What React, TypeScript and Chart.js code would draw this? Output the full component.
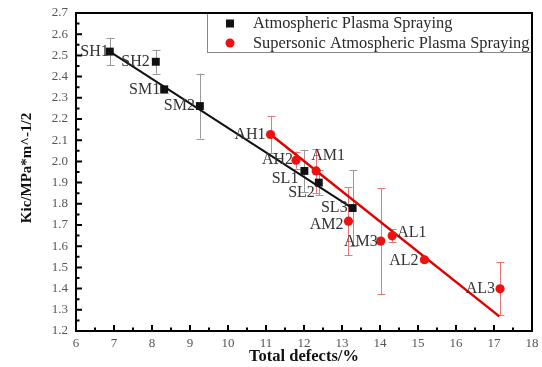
import React, { useEffect, useRef } from 'react';
import { Chart, registerables } from 'chart.js';

Chart.register(...registerables);

// ---------- data ----------
const seriesNames = ['Atmospheric Plasma Spraying', 'Supersonic Atmospheric Plasma Spraying'];

const apsLabels = ['SH1', 'SH2', 'SM1', 'SM2', 'SL1', 'SL2', 'SL3'];
const apsDefects = [6.89, 8.1, 8.32, 9.26, 12.01, 12.39, 13.28];
const apsKic = [2.518, 2.47, 2.34, 2.261, 1.955, 1.9, 1.78];
const apsErr = [0.065, 0.057, 0.015, 0.153, 0.1, 0.06, 0.18];

const sapsLabels = ['AH1', 'AH2', 'AM1', 'AM2', 'AM3', 'AL1', 'AL2', 'AL3'];
const sapsDefects = [11.12, 11.79, 12.32, 13.17, 14.02, 14.32, 15.17, 17.16];
const sapsKic = [2.127, 2.006, 1.955, 1.718, 1.624, 1.649, 1.536, 1.399];
const sapsErr = [0.087, 0.04, 0.105, 0.16, 0.25, 0.03, 0.01, 0.125];

const apsFitX = [6.89, 13.3];
const apsFitY = [2.518, 1.776];
const sapsFitX = [11.12, 17.14];
const sapsFitY = [2.127, 1.269];

const xTickValues = [6, 7, 8, 9, 10, 11, 12, 13, 14, 15, 16, 17, 18];
const yTickValues = [1.2, 1.3, 1.4, 1.5, 1.6, 1.7, 1.8, 1.9, 2.0, 2.1, 2.2, 2.3, 2.4, 2.5, 2.6, 2.7];

const xTitle = 'Total defects/%';
const yTitle = 'Kic/MPa*m^-1/2';

// ---------- label placement (style, not data) ----------
const labelPlace: Record<string, { a: CanvasTextAlign; dx: number; dy: number }> = {
  SH1: { a: 'right', dx: -1, dy: 0 },
  SH2: { a: 'right', dx: -6, dy: 0 },
  SM1: { a: 'right', dx: -4, dy: 0 },
  SM2: { a: 'right', dx: -5, dy: 0 },
  SL1: { a: 'right', dx: -6, dy: 8 },
  SL2: { a: 'right', dx: -4, dy: 10 },
  SL3: { a: 'right', dx: -5, dy: 0 },
  AH1: { a: 'right', dx: -5, dy: 0 },
  AH2: { a: 'right', dx: -3, dy: 0 },
  AM1: { a: 'left', dx: -5, dy: -15 },
  AM2: { a: 'right', dx: -5, dy: 4 },
  AM3: { a: 'right', dx: -3, dy: 1 },
  AL1: { a: 'left', dx: 5, dy: -3 },
  AL2: { a: 'right', dx: -6, dy: 1 },
  AL3: { a: 'right', dx: -5, dy: 0 },
};

const SERIF = '"Liberation Serif", "Times New Roman", serif';
const BLACK = '#111111';
const RED = '#ee1111';

const decor = {
  id: 'decor',
  beforeDatasetsDraw(chart: any) {
    const { ctx, scales } = chart;
    const x = scales.x, y = scales.y;
    ctx.save();
    const drawErr = (xs: number[], ys: number[], es: number[], color: string) => {
      ctx.strokeStyle = color;
      ctx.lineWidth = 1;
      xs.forEach((xv, i) => {
        const px = Math.round(x.getPixelForValue(xv)) + 0.5;
        const t = y.getPixelForValue(ys[i] + es[i]);
        const b = y.getPixelForValue(ys[i] - es[i]);
        ctx.beginPath();
        ctx.moveTo(px, t);
        ctx.lineTo(px, b);
        ctx.moveTo(px - 4, Math.round(t) + 0.5);
        ctx.lineTo(px + 4, Math.round(t) + 0.5);
        ctx.moveTo(px - 4, Math.round(b) + 0.5);
        ctx.lineTo(px + 4, Math.round(b) + 0.5);
        ctx.stroke();
      });
    };
    drawErr(apsDefects, apsKic, apsErr, '#9a9a9a');
    drawErr(sapsDefects, sapsKic, sapsErr, '#e87878');
    ctx.restore();
  },
  afterDatasetsDraw(chart: any) {
    const { ctx, scales, chartArea } = chart;
    const x = scales.x, y = scales.y;
    const { left, right, top, bottom } = chartArea;
    ctx.save();

    // point labels
    ctx.font = `16px ${SERIF}`;
    ctx.fillStyle = '#333';
    ctx.textBaseline = 'middle';
    const drawLabels = (names: string[], xs: number[], ys: number[]) => {
      names.forEach((n, i) => {
        const p = labelPlace[n];
        ctx.textAlign = p.a;
        ctx.fillText(n, x.getPixelForValue(xs[i]) + p.dx, y.getPixelForValue(ys[i]) + p.dy);
      });
    };
    drawLabels(apsLabels, apsDefects, apsKic);
    drawLabels(sapsLabels, sapsDefects, sapsKic);

    // inward ticks
    ctx.strokeStyle = '#000';
    ctx.lineWidth = 2;
    ctx.beginPath();
    xTickValues.forEach((v, i) => {
      const px = x.getPixelForValue(v);
      ctx.moveTo(px, bottom);
      ctx.lineTo(px, bottom - 6);
      if (i < xTickValues.length - 1) {
        const pm = x.getPixelForValue((v + xTickValues[i + 1]) / 2);
        ctx.moveTo(pm, bottom);
        ctx.lineTo(pm, bottom - 3.5);
      }
    });
    yTickValues.forEach((v, i) => {
      const py = y.getPixelForValue(v);
      ctx.moveTo(left, py);
      ctx.lineTo(left + 6, py);
      if (i < yTickValues.length - 1) {
        const pm = y.getPixelForValue((v + yTickValues[i + 1]) / 2);
        ctx.moveTo(left, pm);
        ctx.lineTo(left + 3.5, pm);
      }
    });
    ctx.stroke();

    // legend
    const lx0 = 207, ly0 = top, lx1 = right, ly1 = top + 39;
    ctx.strokeStyle = '#888';
    ctx.lineWidth = 1;
    ctx.strokeRect(lx0 + 0.5, ly0 + 0.5, lx1 - lx0, ly1 - ly0);
    ctx.fillStyle = BLACK;
    ctx.fillRect(226, ly0 + 6.5, 8, 8);
    ctx.fillStyle = RED;
    ctx.beginPath();
    ctx.arc(230, ly0 + 30, 4.5, 0, Math.PI * 2);
    ctx.fill();
    ctx.font = `16.4px ${SERIF}`;
    ctx.fillStyle = '#2a2a2a';
    ctx.textAlign = 'left';
    ctx.textBaseline = 'middle';
    ctx.fillText(seriesNames[0], 253, ly0 + 11);
    ctx.fillText(seriesNames[1], 253, ly0 + 31);

    // y title
    ctx.save();
    ctx.translate(27, 168);
    ctx.rotate(-Math.PI / 2);
    ctx.font = `bold 15px ${SERIF}`;
    ctx.fillStyle = '#111';
    ctx.textAlign = 'center';
    ctx.textBaseline = 'middle';
    ctx.fillText(yTitle, 0, 0);
    ctx.restore();

    // frame
    ctx.strokeStyle = '#000';
    ctx.lineWidth = 2;
    ctx.strokeRect(left, top, right - left, bottom - top);
    ctx.restore();
  },
};

export default function App() {
  const ref = useRef<HTMLCanvasElement>(null);
  useEffect(() => {
    const chart = new Chart(ref.current as HTMLCanvasElement, {
      type: 'scatter',
      data: {
        datasets: [
          {
            label: seriesNames[0],
            data: apsDefects.map((v, i) => ({ x: v, y: apsKic[i] })),
            pointStyle: 'rect',
            pointRadius: 5.6,
            backgroundColor: BLACK,
            borderWidth: 0,
            showLine: false,
          },
          {
            label: seriesNames[1],
            data: sapsDefects.map((v, i) => ({ x: v, y: sapsKic[i] })),
            pointStyle: 'circle',
            pointRadius: 4.6,
            backgroundColor: RED,
            borderWidth: 0,
            showLine: false,
          },
          {
            label: 'APS fit',
            data: apsFitX.map((v, i) => ({ x: v, y: apsFitY[i] })),
            showLine: true,
            borderColor: BLACK,
            borderWidth: 2,
            pointRadius: 0,
          },
          {
            label: 'SAPS fit',
            data: sapsFitX.map((v, i) => ({ x: v, y: sapsFitY[i] })),
            showLine: true,
            borderColor: '#e00000',
            borderWidth: 2.5,
            pointRadius: 0,
          },
        ],
      },
      options: {
        responsive: false,
        animation: false,
        layout: { padding: { left: 0, top: 13, right: 10, bottom: 0 } },
        plugins: { legend: { display: false }, tooltip: { enabled: false } },
        scales: {
          x: {
            type: 'linear',
            min: 6,
            max: 18,
            grid: { display: false, drawTicks: false },
            border: { display: false },
            afterBuildTicks: (s: any) => { s.ticks = xTickValues.map((v) => ({ value: v })); },
            afterFit: (s: any) => { s.height = 36; s.paddingLeft = 0; s.paddingRight = 0; },
            ticks: {
              padding: 5,
              color: '#555',
              font: { family: SERIF, size: 13 },
              callback: (v: any) => String(v),
            },
            title: {
              display: true,
              text: xTitle,
              color: '#111',
              font: { family: SERIF, size: 16.5, weight: 'bold' },
              padding: { top: 0, bottom: 0.7 },
            },
          },
          y: {
            type: 'linear',
            min: 1.2,
            max: 2.7,
            grid: { display: false, drawTicks: false },
            border: { display: false },
            afterBuildTicks: (s: any) => { s.ticks = yTickValues.map((v) => ({ value: v })); },
            afterFit: (s: any) => { s.width = 76; s.paddingTop = 0; s.paddingBottom = 0; },
            ticks: {
              padding: 8,
              color: '#555',
              font: { family: SERIF, size: 13 },
              callback: (v: any) => Number(v).toFixed(1),
            },
            title: { display: false, text: yTitle },
          },
        },
      },
      plugins: [decor],
    } as any);
    return () => chart.destroy();
  }, []);
  return (
    <div style={{ position: 'absolute', left: 0, top: 0, width: 542, height: 367 }}>
      <canvas ref={ref} width={542} height={367} style={{ display: 'block' }} />
    </div>
  );
}
